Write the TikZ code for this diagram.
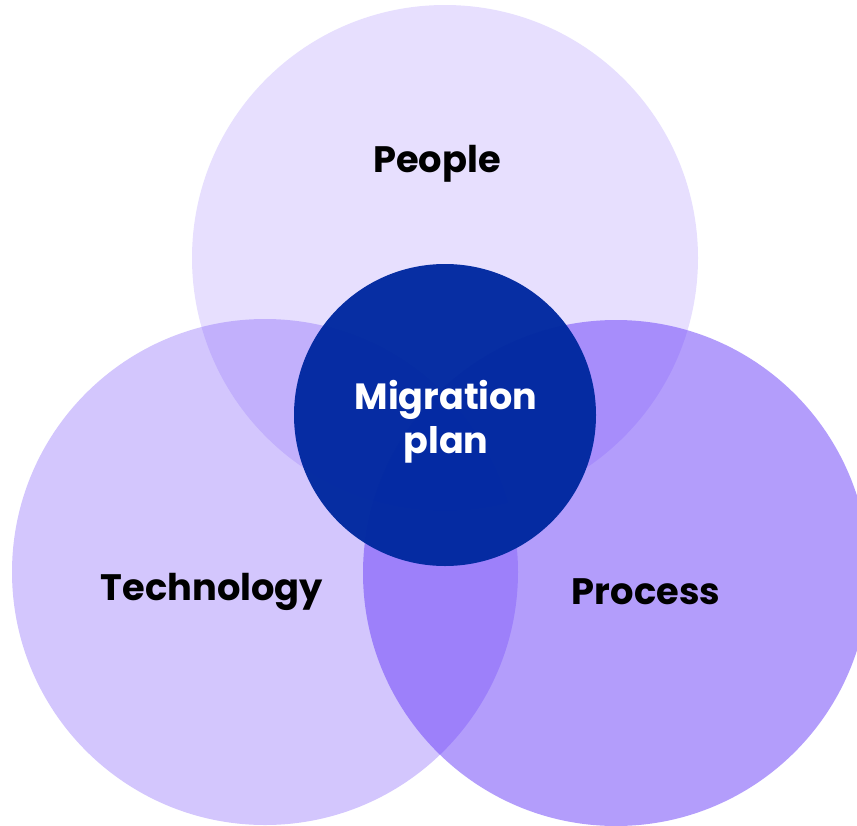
\documentclass[tikz,border=0pt]{standalone}
\usepackage{fontspec}
\setmainfont{Poppins}
\definecolor{vpurple}{RGB}{103,59,248}
\definecolor{vblue}{RGB}{0,40,160}
\begin{document}
\begin{tikzpicture}[x=1pt,y=-1pt,
  set/.style={circle,fill=vpurple,inner sep=0pt,minimum size=506pt},
  core/.style={circle,fill=vblue,fill opacity=0.97,inner sep=0pt,minimum size=302pt},
  lab/.style={font=\fontsize{36.8}{44}\selectfont\bfseries,text=black},
  corelab/.style={font=\fontsize{36.5}{44}\selectfont\bfseries,text=white,align=center}]
\useasboundingbox (0,0) rectangle (857,825);
\clip (0,0) rectangle (857,825);
\node[set,fill opacity=0.16] (people) at (445,258) {};
\node[set,fill opacity=0.29] (tech) at (265,572) {};
\node[set,fill opacity=0.5] (proc) at (616,573) {};
\node[core] (core) at (445,415) {};
\node[lab] (lpeople) at (437,164) {People};
\node[lab] (ltech) at (212,592) {Technology};
\node[lab] (lproc) at (646,592) {Process};
\node[corelab] (lcore) at (446,422) {Migration\\plan};
\end{tikzpicture}
\end{document}
